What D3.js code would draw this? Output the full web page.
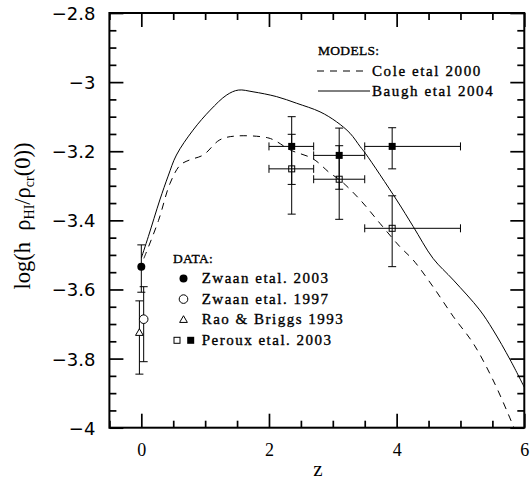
<!DOCTYPE html>
<html>
<head>
<meta charset="utf-8">
<script src="https://cdn.jsdelivr.net/npm/d3@7"></script>
<style>
  body { margin: 0; background: #fff; }
  svg { display: block; }
</style>
</head>
<body>
<div id="myChart"></div>
<script>
// Size of the picture and the plot box
const w = 531;
const h = 483;
const margin = {top: 13, left: 109.4, bottom: 55.3, right: 6.7};
const innerWidth = w - margin.left - margin.right;
const innerHeight = h - margin.top - margin.bottom;

// ---- data ----
// model curves: redshift z and log(h rho_HI / rho_cr(0))
const coleZ = [0.04, 0.27, 0.45, 0.61, 0.76, 0.97, 1.23, 1.48, 1.98, 2.12, 2.33, 2.69, 2.96, 3.11, 3.43, 3.74, 4.05, 4.26, 4.57, 4.89, 5.20, 5.51, 5.80, 5.86];
const coleV = [-3.51, -3.40, -3.293, -3.24, -3.225, -3.211, -3.167, -3.156, -3.161, -3.172, -3.196, -3.222, -3.264, -3.283, -3.341, -3.409, -3.476, -3.515, -3.592, -3.679, -3.756, -3.862, -3.983, -4.01];
const baughZ = [0.0, 0.11, 0.29, 0.42, 0.55, 0.81, 1.08, 1.34, 1.52, 1.75, 2.12, 2.43, 2.80, 3.06, 3.27, 3.43, 3.51, 4.00, 4.26, 4.57, 4.89, 5.30, 5.51, 5.78, 6.0];
const baughV = [-3.509, -3.447, -3.341, -3.272, -3.211, -3.139, -3.081, -3.037, -3.023, -3.028, -3.042, -3.061, -3.086, -3.115, -3.148, -3.187, -3.206, -3.341, -3.418, -3.510, -3.573, -3.659, -3.717, -3.804, -3.883];

// observations: value with lower / upper error
const zwaan2003 = [{z: 0.0, v: -3.534, lo: -3.608, hi: -3.471}];
const zwaan1997 = [{z: 0.037, v: -3.686, lo: -3.809, hi: -3.592}];
const raoBriggs1993 = [{z: -0.03, v: -3.725, lo: -3.845, hi: -3.633}];
// Peroux bins in z
const perouxZ = [2.356, 3.10, 3.93];
const perouxZLo = [2.0, 2.7, 3.5];
const perouxZHi = [2.7, 3.5, 5.0];
const perouxFilledV = [-3.186, -3.212, -3.186];
const perouxFilledLo = [-3.296, -3.310, -3.251];
const perouxFilledHi = [-3.100, -3.133, -3.132];
const perouxOpenV = [-3.251, -3.281, -3.423];
const perouxOpenLo = [-3.382, -3.397, -3.534];
const perouxOpenHi = [-3.151, -3.184, -3.329];

// axis ticks
const yTicks = [-2.8, -3, -3.2, -3.4, -3.6, -3.8, -4];
const yTickLabels = ["\u22122.8", "\u22123", "\u22123.2", "\u22123.4", "\u22123.6", "\u22123.8", "\u22124"];
const xTicks = [0, 2, 4, 6];
const xTickLabels = ["0", "2", "4", "6"];

// legend text
const modelLabels = ["Cole etal 2000", "Baugh etal 2004"];
const dataLabels = ["Zwaan etal. 2003", "Zwaan etal. 1997", "Rao & Briggs 1993", "Peroux etal. 2003"];

// ---- svg ----
const svg = d3.select("#myChart")
  .append("svg")
    .attr("width", w)
    .attr("height", h);

const mainG = svg.append("g")
    .attr("transform", `translate(${margin.left}, ${margin.top})`);

const xScale = d3.scaleLinear().domain([-0.5, 6]).range([0, innerWidth]);
const yScale = d3.scaleLinear().domain([-4, -2.8]).range([innerHeight, 0]);

const xMinor = d3.range(-0.5, 6.01, 0.5).filter(d => !xTicks.includes(d));
const yMinor = d3.range(-4, -2.79, 0.05).map(d => +d.toFixed(2)).filter(d => !yTicks.includes(d));

// axes on all four sides, ticks pointing in
function drawAxis(axis, transform, keepText) {
  const g = mainG.append("g").attr("transform", transform).call(axis);
  g.select(".domain").remove();
  g.selectAll(".tick line").attr("stroke", "#000").attr("stroke-width", 1.7);
  if (!keepText) g.selectAll(".tick text").remove();
  return g;
}

const yAx = drawAxis(d3.axisLeft(yScale).tickValues(yTicks).tickSize(-14).tickPadding(14)
  .tickFormat((d, i) => yTickLabels[i]), "translate(0,0)", true);
yAx.selectAll("text")
  .attr("dy", null)
  .attr("dominant-baseline", "central")
  .attr("font-family", "DejaVu Sans")
  .attr("font-size", 18)
  .attr("fill", "#000");
drawAxis(d3.axisLeft(yScale).tickValues(yMinor).tickSize(-7), "translate(0,0)");
drawAxis(d3.axisRight(yScale).tickValues(yTicks).tickSize(-14), `translate(${innerWidth},0)`);
drawAxis(d3.axisRight(yScale).tickValues(yMinor).tickSize(-7), `translate(${innerWidth},0)`);

const xAx = drawAxis(d3.axisBottom(xScale).tickValues(xTicks).tickSize(-14).tickPadding(16)
  .tickFormat((d, i) => xTickLabels[i]), `translate(0,${innerHeight})`, true);
xAx.selectAll("text")
  .attr("font-family", "Liberation Serif")
  .attr("font-size", 18)
  .attr("fill", "#000");
drawAxis(d3.axisBottom(xScale).tickValues(xMinor).tickSize(-7), `translate(0,${innerHeight})`);
drawAxis(d3.axisTop(xScale).tickValues(xTicks).tickSize(-14), "translate(0,0)");
drawAxis(d3.axisTop(xScale).tickValues(xMinor).tickSize(-7), "translate(0,0)");

// frame
mainG.append("rect")
  .attr("width", innerWidth)
  .attr("height", innerHeight)
  .attr("fill", "none")
  .attr("stroke", "#000")
  .attr("stroke-width", 2);

// axis titles
svg.append("text")
  .attr("x", 318)
  .attr("y", 476)
  .attr("text-anchor", "middle")
  .attr("font-family", "Liberation Serif")
  .attr("font-size", 21)
  .text("z");

const yLab = svg.append("text")
  .attr("transform", "translate(30,216) rotate(-90)")
  .attr("text-anchor", "middle")
  .attr("font-family", "Liberation Serif")
  .attr("font-size", 22.5);
yLab.append("tspan").text("log(h\u00a0\u00a0\u03c1");
yLab.append("tspan").attr("font-size", 14).attr("dy", 4).text("HI");
yLab.append("tspan").attr("dy", -4).text("/\u03c1");
yLab.append("tspan").attr("font-size", 14).attr("dy", 4).text("cr");
yLab.append("tspan").attr("dy", -4).text("(0))");

// ---- curves ----
svg.append("clipPath").attr("id", "plotClip")
  .append("rect").attr("width", innerWidth).attr("height", innerHeight);

const line = d3.line()
  .x(d => xScale(d[0]))
  .y(d => yScale(d[1]))
  .curve(d3.curveCatmullRom.alpha(0.5));

const curves = mainG.append("g").attr("clip-path", "url(#plotClip)");
curves.append("path")
  .attr("d", line(d3.zip(coleZ, coleV)))
  .attr("fill", "none")
  .attr("stroke", "#000")
  .attr("stroke-width", 1)
  .attr("stroke-dasharray", "7,6");
curves.append("path")
  .attr("d", line(d3.zip(baughZ, baughV)))
  .attr("fill", "none")
  .attr("stroke", "#000")
  .attr("stroke-width", 1);

// ---- error bars ----
const cap = 4;
const bars = mainG.append("g").attr("stroke", "#000").attr("stroke-width", 1);

function vBar(z, lo, hi) {
  const x = xScale(z);
  bars.append("line").attr("x1", x).attr("x2", x).attr("y1", yScale(lo)).attr("y2", yScale(hi));
  bars.append("line").attr("x1", x - cap).attr("x2", x + cap).attr("y1", yScale(lo)).attr("y2", yScale(lo));
  bars.append("line").attr("x1", x - cap).attr("x2", x + cap).attr("y1", yScale(hi)).attr("y2", yScale(hi));
}
function hBar(v, zlo, zhi) {
  const y = yScale(v);
  bars.append("line").attr("x1", xScale(zlo)).attr("x2", xScale(zhi)).attr("y1", y).attr("y2", y);
  bars.append("line").attr("x1", xScale(zlo)).attr("x2", xScale(zlo)).attr("y1", y - cap).attr("y2", y + cap);
  bars.append("line").attr("x1", xScale(zhi)).attr("x2", xScale(zhi)).attr("y1", y - cap).attr("y2", y + cap);
}

[zwaan2003, zwaan1997, raoBriggs1993].forEach(set => set.forEach(d => vBar(d.z, d.lo, d.hi)));
perouxZ.forEach((z, i) => {
  vBar(z, perouxFilledLo[i], perouxFilledHi[i]);
  hBar(perouxFilledV[i], perouxZLo[i], perouxZHi[i]);
  vBar(z, perouxOpenLo[i], perouxOpenHi[i]);
  hBar(perouxOpenV[i], perouxZLo[i], perouxZHi[i]);
});

// ---- markers ----
function marker(g, type, x, y) {
  if (type === "dot") {
    g.append("circle").attr("cx", x).attr("cy", y).attr("r", 4).attr("fill", "#000");
  } else if (type === "ring") {
    g.append("circle").attr("cx", x).attr("cy", y).attr("r", 4.3).attr("fill", "#fff").attr("stroke", "#000");
  } else if (type === "tri") {
    g.append("path").attr("d", d3.symbol(d3.symbolTriangle, 26)()).attr("transform", `translate(${x},${y + 0.5})`)
      .attr("fill", "#fff").attr("stroke", "#000");
  } else if (type === "sq") {
    g.append("rect").attr("x", x - 3.5).attr("y", y - 3.5).attr("width", 7).attr("height", 7).attr("fill", "#000");
  } else if (type === "box") {
    g.append("rect").attr("x", x - 3).attr("y", y - 3).attr("width", 6).attr("height", 6)
      .attr("fill", "none").attr("stroke", "#000");
  }
}

const marks = mainG.append("g");
zwaan2003.forEach(d => marker(marks, "dot", xScale(d.z), yScale(d.v)));
zwaan1997.forEach(d => marker(marks, "ring", xScale(d.z), yScale(d.v)));
raoBriggs1993.forEach(d => marker(marks, "tri", xScale(d.z), yScale(d.v)));
perouxZ.forEach((z, i) => {
  marker(marks, "sq", xScale(z), yScale(perouxFilledV[i]));
  marker(marks, "box", xScale(z), yScale(perouxOpenV[i]));
});

// ---- legends ----
function legText(x, y, s, size, spacing) {
  svg.append("text").attr("x", x).attr("y", y)
    .attr("font-family", "Liberation Serif").attr("font-size", size)
    .attr("letter-spacing", spacing)
    .attr("fill", "#000")
    .attr("stroke", "#000").attr("stroke-width", 0.35)
    .text(s);
}

legText(318, 55, "MODELS:", 13.5, 0.3);
svg.append("line").attr("x1", 317).attr("x2", 367).attr("y1", 71).attr("y2", 71)
  .attr("stroke", "#000").attr("stroke-dasharray", "7,6");
legText(372, 76, modelLabels[0], 15, 1.6);
svg.append("line").attr("x1", 318).attr("x2", 370).attr("y1", 91).attr("y2", 91)
  .attr("stroke", "#000");
legText(372, 96, modelLabels[1], 15, 1.6);

legText(173, 263, "DATA:", 13.5, 0.3);
const legMarks = svg.append("g");
const legTypes = [["dot"], ["ring"], ["tri"], ["box", "sq"]];
dataLabels.forEach((s, i) => {
  const y = 278.5 + i * 20.6;
  legText(201.7, y + 4.5, s, 15, 1.5);
  if (legTypes[i].length === 1) {
    marker(legMarks, legTypes[i][0], 183.5, y);
  } else {
    marker(legMarks, legTypes[i][0], 177, y);
    marker(legMarks, legTypes[i][1], 190.7, y);
  }
});
</script>
</body>
</html>
